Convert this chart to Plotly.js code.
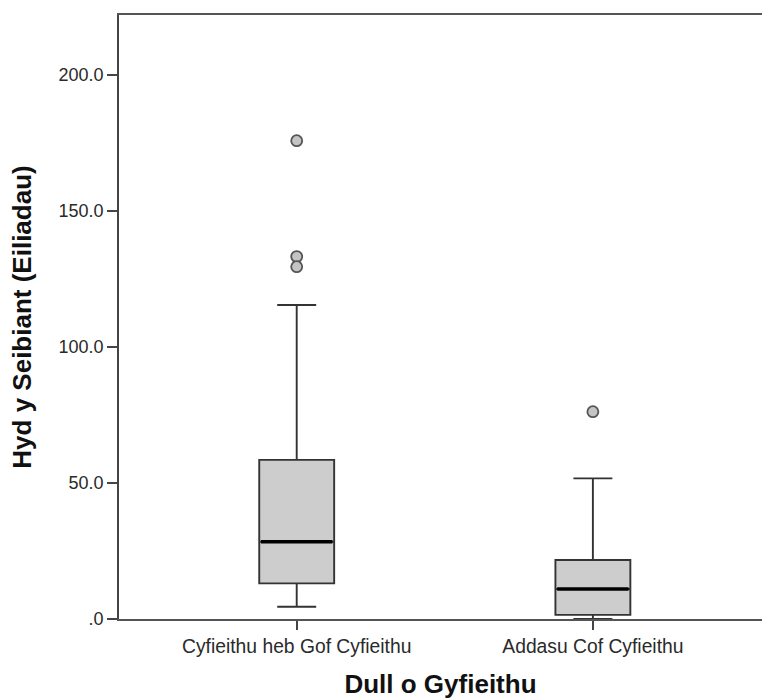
<!DOCTYPE html>
<html>
<head>
<meta charset="utf-8">
<script src="https://cdn.plot.ly/plotly-3.0.1.min.js"></script>
<style>html,body{margin:0;padding:0;background:#fff}#chart{width:762px;height:699px}</style>
</head>
<body>
<div id="chart"></div>
<script>
const categories = ["Cyfieithu heb Gof Cyfieithu", "Addasu Cof Cyfieithu"];
const q1 = [13.1, 1.5];
const median = [28.4, 11.0];
const q3 = [58.5, 21.7];
const lowerFence = [4.5, 0.0];
const upperFence = [115.4, 51.7];
const outlierGroup = [0, 0, 0, 1];
const outlierValues = [175.8, 133.2, 129.5, 76.2];
const yTickVals = [0, 50, 100, 150, 200];
const yTickText = [".0", "50.0", "100.0", "150.0", "200.0"];

const pos = categories.map((c, i) => i);
const boxW = 0.253;

const traces = [{
  type: 'box',
  x: pos,
  q1: q1, median: median, q3: q3,
  lowerfence: lowerFence, upperfence: upperFence,
  width: boxW,
  whiskerwidth: 0.52,
  fillcolor: '#cdcdcd',
  line: {color: '#333', width: 1.9},
  boxpoints: false,
  hoverinfo: 'skip',
  showlegend: false
}];
pos.forEach((p, i) => {
  traces.push({
    type: 'scatter', mode: 'lines',
    x: [p - boxW / 2 + 0.006, p + boxW / 2 - 0.006],
    y: [median[i], median[i]],
    line: {color: '#000', width: 3.5},
    hoverinfo: 'skip', showlegend: false
  });
});
traces.push({
  type: 'scatter', mode: 'markers',
  x: outlierGroup, y: outlierValues,
  marker: {symbol: 'circle', size: 11, color: '#c4c4c4', line: {color: '#555', width: 1.8}},
  hoverinfo: 'skip', showlegend: false
});

const fam = 'Liberation Sans, Arial, sans-serif';
const layout = {
  width: 762, height: 699,
  margin: {l: 119, r: 0, t: 15, b: 80},
  paper_bgcolor: '#fff', plot_bgcolor: '#fff',
  font: {family: fam, color: '#333'},
  xaxis: {
    range: [-0.6, 1.571],
    tickvals: pos, ticktext: categories,
    ticks: 'outside', ticklen: 9, tickwidth: 1.8, tickcolor: '#444',
    tickfont: {size: 19.3, color: '#2a2a2a', family: fam},
    showline: true, linecolor: '#555', linewidth: 2.2, mirror: true,
    showgrid: false, zeroline: false,
    title: {text: 'Dull o Gyfieithu', font: {size: 26, color: '#111', family: fam, weight: 'bold'}, standoff: 20}
  },
  yaxis: {
    range: [0, 222],
    tickvals: yTickVals, ticktext: yTickText,
    ticks: 'outside', ticklen: 10, tickwidth: 1.8, tickcolor: '#444',
    tickfont: {size: 18, color: '#2a2a2a', family: fam},
    showline: true, linecolor: '#444', linewidth: 1.8,
    showgrid: false, zeroline: false,
    title: {text: 'Hyd y Seibiant (Eiliadau)', font: {size: 26, color: '#111', family: fam, weight: 'bold'}, standoff: 19}
  }
};
Plotly.newPlot('chart', traces, layout, {displayModeBar: false, staticPlot: true});
</script>
</body>
</html>
